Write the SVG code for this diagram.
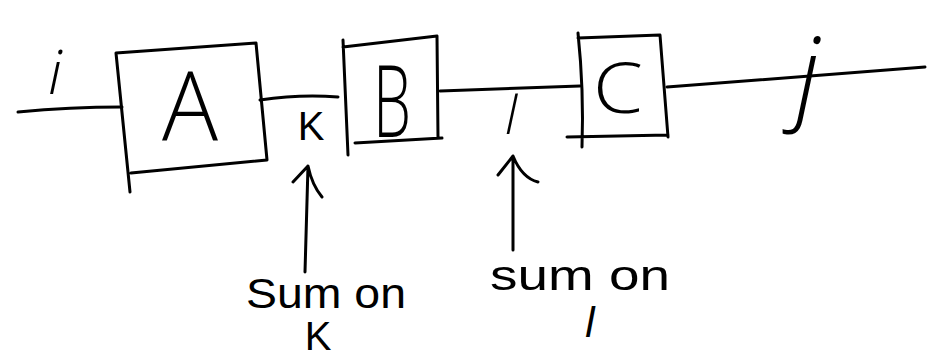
<svg xmlns="http://www.w3.org/2000/svg" width="935" height="359" viewBox="0 0 935 359">
<style>
.s{fill:none;stroke:#000;stroke-width:3;stroke-linecap:round;stroke-linejoin:round}
.t{font-family:"Open Sans","DejaVu Sans",sans-serif;font-weight:300;fill:#000;text-anchor:middle}
.w{font-family:"Liberation Sans","DejaVu Sans",sans-serif;fill:#000;text-anchor:middle}
.i{font-style:italic}
</style>
<rect width="935" height="359" fill="#fff"/>
<g id="connectors">
<path class="s" d="M18,112 Q70,107 122,107"/>
<path class="s" d="M260,100 Q300,94 338,97"/>
<path class="s" d="M440,91 L580,86"/>
<path class="s" d="M667,87 L925,67"/>
<path class="s" d="M305,272 L308,166 M293,182 L308,166 Q312,185 322,197"/>
<path class="s" d="M513,250 L513,156 M498,175 L513,156 Q522,178 538,182"/>
</g>
<g id="node-A">
<path class="s" d="M116,53 L256,43 L267,160 L131,173 M116,53 L130,192"/>
<text class="t" x="190" y="140" font-size="95" textLength="56" lengthAdjust="spacingAndGlyphs">A</text>
</g>
<g id="node-B">
<path class="s" d="M343,47 L437,36 L438,138 M355,143 L442,138 M343,40 L348,155"/>
<text class="t" x="392" y="137" font-size="100" textLength="38" lengthAdjust="spacingAndGlyphs">B</text>
</g>
<g id="node-C">
<path class="s" d="M578,38 L660,35 L668,137 M567,137 L668,135 M578,33 Q584,90 582,147"/>
<text class="t" x="618" y="113" font-size="70" textLength="50" lengthAdjust="spacingAndGlyphs">C</text>
</g>
<g id="labels">
<text class="t i" x="55" y="94" font-size="60">i</text>
<text class="w" x="311" y="140" font-size="40">K</text>
<text class="t i" x="511" y="134" font-size="54">l</text>
<text class="t i" x="808" y="110" font-size="102">j</text>
<text class="w" x="326" y="308" font-size="42" textLength="160" lengthAdjust="spacingAndGlyphs">Sum on</text>
<text class="w" x="318" y="350" font-size="40">K</text>
<text class="w" x="580" y="290" font-size="42" textLength="180" lengthAdjust="spacingAndGlyphs">sum on</text>
<text class="w i" x="590" y="337" font-size="42">l</text>
</g>
</svg>
